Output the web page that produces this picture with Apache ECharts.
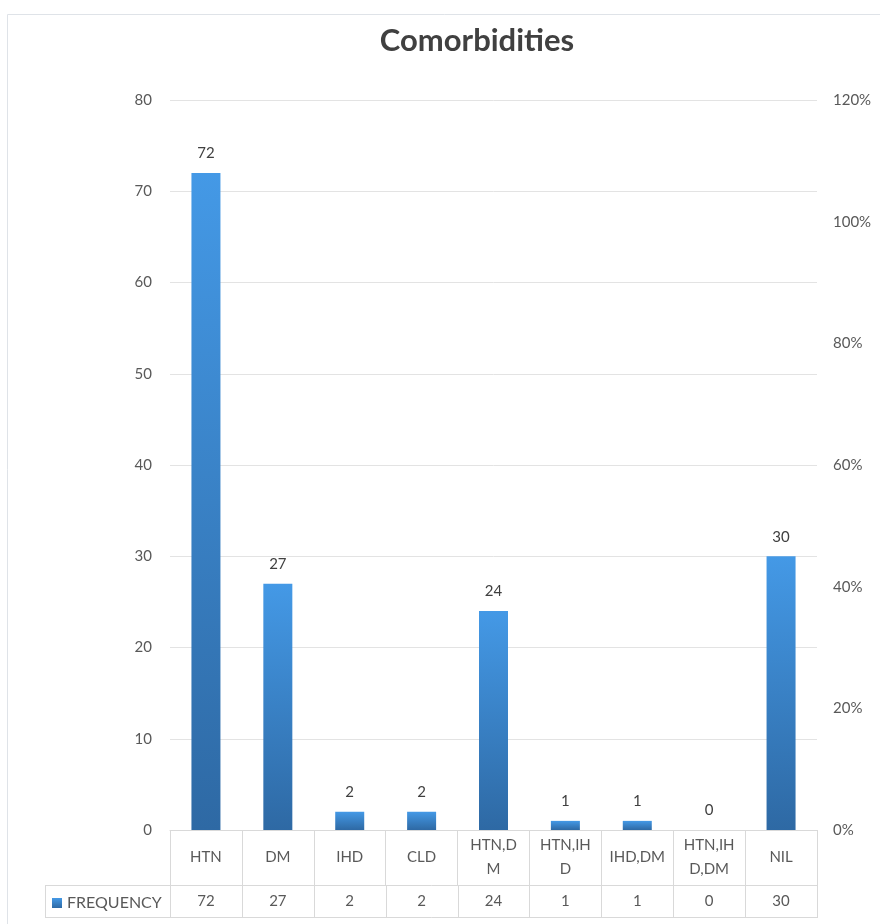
<!DOCTYPE html>
<html>
<head>
<meta charset="utf-8">
<script src="https://cdn.jsdelivr.net/npm/echarts@6/dist/echarts.min.js"></script>
<style>
  html, body { margin: 0; padding: 0; background: #ffffff; }
  #chart { width: 880px; height: 924px; }
</style>
</head>
<body>
<div id="chart"></div>
<script>
// Comorbidity groups and their patient counts
const categories = ['HTN', 'DM', 'IHD', 'CLD', 'HTN,D\nM', 'HTN,IH\nD', 'IHD,DM', 'HTN,IH\nD,DM', 'NIL'];
const frequency = [72, 27, 2, 2, 24, 1, 1, 0, 30];
const seriesName = 'FREQUENCY';

// Axis ranges
const countAxis = { min: 0, max: 80, interval: 10 };
const percentAxis = { min: 0, max: 1.2, interval: 0.2 };

// Layout of the plot and the data table beneath it
const W = 880, H = 924;
const gridLeft = 170, gridRight = 63, gridTop = 100, gridBottom = 94;
const headerRow = 55, valueRow = 32, tableLeft = 45;
const lineColor = '#d9d9d9';
const textColor = '#595959';
const font = 'Lato, "Open Sans", sans-serif';

const chart = echarts.init(document.getElementById('chart'));

const baseY = H - gridBottom;
const plotRight = W - gridRight;
const rowTop = baseY + headerRow;
const rowBottom = rowTop + valueRow;

// Table lines: outer edges of the value row plus one divider per category boundary
const tableLines = [
  [[tableLeft + 0.5, rowTop + 0.5], [plotRight, rowTop + 0.5]],
  [[tableLeft + 0.5, rowBottom + 0.5], [plotRight, rowBottom + 0.5]],
  [[tableLeft + 0.5, rowTop], [tableLeft + 0.5, rowBottom + 1]]
];
const band = (plotRight - gridLeft) / categories.length;
for (let i = 0; i <= categories.length; i++) {
  const x = Math.round(gridLeft + i * band) + 0.5;
  tableLines.push([[x, rowTop], [x, rowBottom + 1]]);
}

chart.setOption({
  animation: false,
  textStyle: { fontFamily: font },
  title: {
    text: 'Comorbidities',
    left: 472,
    top: 20,
    textAlign: 'center',
    textStyle: { fontSize: 31, fontWeight: 'bold', color: '#404040', fontFamily: font }
  },
  legend: {
    data: [seriesName],
    left: tableLeft + 2,
    top: rowTop + 5,
    icon: 'rect',
    itemWidth: 10,
    itemHeight: 10,
    itemGap: 4,
    textStyle: { color: textColor, fontSize: 16, fontFamily: font, padding: [0, 0, 0, 0] }
  },
  grid: { left: gridLeft, right: gridRight, top: gridTop, bottom: gridBottom, containLabel: false },
  xAxis: [
    {
      type: 'category',
      data: categories,
      axisLine: { show: true, lineStyle: { color: lineColor, width: 1 } },
      axisTick: { show: true, length: headerRow, lineStyle: { color: lineColor } },
      axisLabel: {
        color: textColor, fontSize: 15, lineHeight: 24, margin: headerRow / 2,
        verticalAlign: 'middle', interval: 0, fontFamily: font
      }
    },
    {
      type: 'category',
      data: frequency.map(String),
      position: 'bottom',
      offset: headerRow,
      axisLine: { show: false },
      axisTick: { show: false },
      axisLabel: {
        color: textColor, fontSize: 15, margin: valueRow / 2,
        verticalAlign: 'middle', interval: 0, fontFamily: font
      }
    }
  ],
  yAxis: [
    {
      type: 'value',
      min: countAxis.min, max: countAxis.max, interval: countAxis.interval,
      axisLine: { show: false },
      axisTick: { show: false },
      splitLine: { show: true, lineStyle: { color: '#e3e3e3', width: 1 } },
      axisLabel: { color: textColor, fontSize: 15, margin: 18, fontFamily: font }
    },
    {
      type: 'value',
      min: percentAxis.min, max: percentAxis.max, interval: percentAxis.interval,
      axisLine: { show: false },
      axisTick: { show: false },
      splitLine: { show: false },
      axisLabel: {
        color: textColor, fontSize: 15, margin: 16, fontFamily: font,
        formatter: v => Math.round(v * 100) + '%'
      }
    }
  ],
  series: [
    {
      name: seriesName,
      type: 'bar',
      xAxisIndex: 0,
      yAxisIndex: 0,
      data: frequency,
      barWidth: 29,
      itemStyle: {
        color: new echarts.graphic.LinearGradient(0, 0, 0, 1, [
          { offset: 0, color: '#4499e6' },
          { offset: 1, color: '#2e69a4' }
        ])
      },
      label: {
        show: true, position: 'top', distance: 12,
        color: '#404040', fontSize: 15, fontFamily: font
      }
    }
  ],
  graphic: [
    // outer frame
    {
      type: 'rect', silent: true,
      shape: { x: 7.5, y: 14.5, width: W, height: H },
      style: { fill: 'none', stroke: '#dfe3e8', lineWidth: 1 }
    }
  ].concat(tableLines.map(pts => ({
    type: 'polyline', silent: true,
    shape: { points: pts },
    style: { fill: 'none', stroke: lineColor, lineWidth: 1 }
  })))
});
</script>
</body>
</html>
